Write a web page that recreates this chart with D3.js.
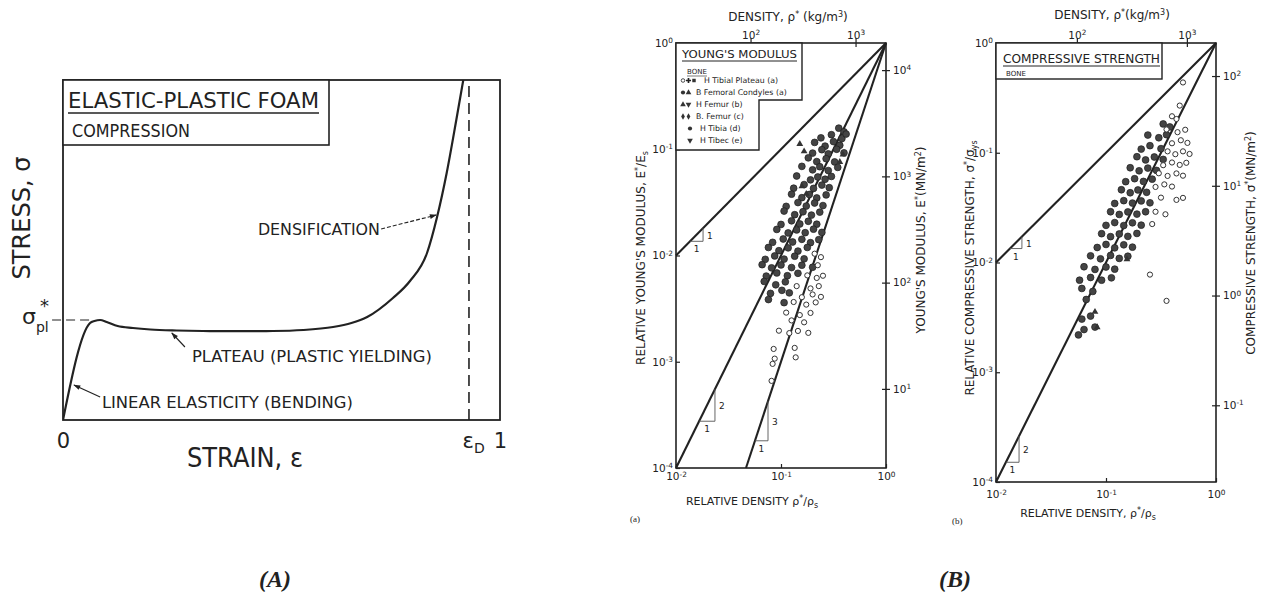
<!DOCTYPE html>
<html>
<head>
<meta charset="utf-8">
<script src="https://cdn.jsdelivr.net/npm/d3@7"></script>
<style>
body { margin: 0; background: #fff; }
text { font-family: 'DejaVu Sans', 'Liberation Sans', sans-serif; fill: #222; }
</style>
</head>
<body>
<script>
// ---------- panel (A): stress-strain curve of an elastic-plastic foam ----------
var strain = [0, 0.062, 0.072, 0.085, 0.1, 0.125, 0.16, 0.2, 0.26, 0.32, 0.4, 0.48, 0.55, 0.618, 0.66, 0.696, 0.755, 0.794, 0.833, 0.856, 0.878, 0.9, 0.916];
var stress = [0, 0.97, 0.99, 1.0, 0.98, 0.94, 0.92, 0.905, 0.895, 0.89, 0.888, 0.89, 0.9, 0.93, 0.97, 1.03, 1.22, 1.39, 1.67, 2.03, 2.47, 3.0, 3.4];
var epsD = 0.929;
var strainTicks = [0, epsD, 1];
// annotations: [text, text strain, text stress, arrow from (strain, stress), arrow to (strain, stress), text width]
var notes = [
  ["DENSIFICATION", 0.446, 1.85, [0.728, 1.91], [0.854, 2.05], 122],
  ["PLATEAU (PLASTIC YIELDING)", 0.295, 0.58, [0.279, 0.73], [0.249, 0.87], 240],
  ["LINEAR ELASTICITY (BENDING)", 0.089, 0.12, [0.085, 0.23], [0.025, 0.35], 251]
];

// ---------- panel (B)(a): Young's modulus of bone ----------
var youngFilled = [
  [0.355,0.158],[0.398,0.146],
  [0.240,0.128],[0.302,0.137],[0.380,0.126],[0.417,0.139],
  [0.209,0.116],[0.263,0.107],[0.316,0.118],[0.363,0.109],
  [0.200,0.0920],[0.245,0.0990],[0.282,0.0905],[0.339,0.1000],[0.398,0.0925],
  [0.182,0.0830],[0.219,0.0765],[0.269,0.0815],[0.324,0.0760],
  [0.158,0.0690],[0.200,0.0640],[0.234,0.0685],[0.282,0.0630],[0.347,0.0675],
  [0.141,0.0560],[0.191,0.0515],[0.224,0.0548],[0.263,0.0522],[0.302,0.0555],
  [0.132,0.0430],[0.166,0.0465],[0.204,0.0428],[0.245,0.0460],[0.288,0.0435],
  [0.126,0.0378],[0.158,0.0350],[0.186,0.0375],[0.219,0.0348],[0.269,0.0372],
  [0.112,0.0290],[0.145,0.0315],[0.174,0.0292],[0.209,0.0312],[0.251,0.0295],
  [0.107,0.0262],[0.135,0.0242],[0.162,0.0258],[0.195,0.0240],[0.234,0.0256],
  [0.100,0.0196],[0.126,0.0212],[0.151,0.0198],[0.182,0.0210],[0.219,0.0197],
  [0.0912,0.0176],[0.117,0.0163],[0.141,0.0174],[0.170,0.0164],[0.204,0.0177],[0.245,0.0165],
  [0.0832,0.0133],[0.105,0.0143],[0.129,0.0134],[0.158,0.0142],[0.191,0.0132],[0.229,0.0141],
  [0.0759,0.0119],[0.0955,0.0111],[0.117,0.0118],[0.145,0.0110],[0.178,0.0119],
  [0.0708,0.00920],[0.0871,0.00990],[0.107,0.00925],[0.135,0.00985],[0.166,0.00930],
  [0.0661,0.00820],[0.0813,0.00765],[0.100,0.00815],[0.126,0.00770],[0.158,0.00810],[0.200,0.00775],
  [0.0724,0.00640],[0.0912,0.00685],[0.115,0.00645],[0.145,0.00680],
  [0.0692,0.00570],[0.0891,0.00530],[0.110,0.00565],
  [0.0794,0.00440],[0.102,0.00470],[0.120,0.00445],
  [0.0759,0.00385],[0.107,0.00360]
];
var youngOpen = [
  [0.209,0.0104],[0.240,0.00965],[0.224,0.00810],
  [0.178,0.00650],[0.219,0.00615],[0.251,0.00645],
  [0.141,0.00515],[0.191,0.00490],[0.229,0.00515],
  [0.158,0.00405],[0.200,0.00430],[0.240,0.00408],
  [0.132,0.00365],[0.174,0.00345],[0.214,0.00362],
  [0.112,0.00290],[0.151,0.00275],[0.191,0.00288],
  [0.126,0.00245],[0.166,0.00235],
  [0.0955,0.00196],[0.120,0.00186],[0.145,0.00195],[0.182,0.00187],
  [0.0851,0.00132],[0.135,0.00135],[0.0871,0.00107],[0.138,0.00110],
  [0.0832,0.000955],[0.0813,0.000661]
];
var youngTri = [[0.151,0.112],[0.166,0.0955],[0.158,0.0447],[0.174,0.0380],[0.389,0.0891],[0.363,0.0759]];
// guide lines E*/Es = (rho*/rhos)^n, given by their end points
var youngLines = [[[0.01,0.01],[1,1]], [[0.01,0.0001],[1,1]], [[0.0464,0.0001],[1,1]]];
// slope triangles: [rho start, rho end, exponent, labels]
var youngSlopes = [[0.0136,0.0181,1,"1","1"], [0.0166,0.0235,2,"1","2"], [0.0565,0.0752,3,"1","3"]];
var legendNames = ["H Tibial Plateau (a)", "B Femoral Condyles (a)", "H Femur (b)", "B. Femur (c)", "H Tibia (d)", "H Tibec (e)"];
var legendSyms = [["o","+","sq","x"], ["c","tri"], ["tri","tridn"], ["dia","dia"], ["c"], ["tridn"]];

// ---------- panel (B)(b): compressive strength of bone ----------
var strengthFilled = [
  [0.331,0.183],[0.380,0.172],
  [0.240,0.145],[0.302,0.137],[0.355,0.146],
  [0.209,0.108],[0.251,0.116],[0.316,0.109],
  [0.191,0.0920],[0.229,0.0860],[0.275,0.0915],[0.331,0.0870],
  [0.166,0.0730],[0.200,0.0685],[0.240,0.0725],[0.288,0.0690],
  [0.151,0.0545],[0.182,0.0580],[0.219,0.0548],[0.263,0.0575],
  [0.138,0.0460],[0.166,0.0432],[0.195,0.0458],[0.234,0.0436],
  [0.120,0.0345],[0.145,0.0366],[0.174,0.0348],[0.209,0.0364],[0.251,0.0350],
  [0.110,0.0290],[0.132,0.0274],[0.158,0.0289],[0.191,0.0276],[0.229,0.0290],
  [0.100,0.0218],[0.120,0.0231],[0.145,0.0217],[0.174,0.0230],[0.209,0.0219],
  [0.0912,0.0183],[0.110,0.0172],[0.132,0.0182],[0.158,0.0173],[0.191,0.0184],
  [0.0832,0.0137],[0.100,0.0146],[0.120,0.0136],[0.145,0.0145],[0.174,0.0138],
  [0.0724,0.0115],[0.0891,0.0108],[0.110,0.0116],[0.132,0.0109],[0.158,0.0114],
  [0.0631,0.00915],[0.0794,0.00865],[0.100,0.00910],[0.120,0.00870],
  [0.0575,0.00690],[0.0724,0.00730],[0.0912,0.00690],[0.112,0.00725],
  [0.0603,0.00580],[0.0759,0.00545],[0.0661,0.00460],
  [0.0603,0.00305],[0.0724,0.00325],[0.0631,0.00245],[0.0794,0.00258],[0.0562,0.00219]
];
var strengthOpen = [
  [0.501,0.437],[0.468,0.269],[0.398,0.215],[0.437,0.203],
  [0.355,0.163],[0.447,0.154],[0.525,0.162],
  [0.398,0.122],[0.479,0.130],[0.550,0.123],
  [0.363,0.103],[0.427,0.0970],[0.501,0.103],[0.575,0.0975],
  [0.331,0.0770],[0.398,0.0815],[0.468,0.0775],[0.537,0.0810],
  [0.302,0.0650],[0.363,0.0615],[0.437,0.0648],[0.501,0.0618],
  [0.282,0.0488],[0.339,0.0515],[0.398,0.0492],
  [0.316,0.0390],[0.437,0.0372],[0.501,0.0388],
  [0.282,0.0290],[0.347,0.0275],[0.263,0.0224],
  [0.251,0.00776],[0.355,0.00447]
];
var strengthCross = [
  [0.178,0.0105],[0.126,0.00832],[0.158,0.00810],[0.138,0.00661],[0.166,0.00680],
  [0.100,0.00525],[0.151,0.00510],[0.112,0.00417],[0.132,0.00430],[0.158,0.00405],
  [0.0912,0.00316],[0.120,0.00325],[0.105,0.00263],[0.126,0.00255],
  [0.110,0.00209],[0.132,0.00215],[0.0525,0.00209],[0.0955,0.00166],[0.117,0.00170],[0.117,0.00126]
];
var strengthTri = [[0.0794,0.00355],[0.0832,0.00257],[0.155,0.0107]];
var strengthLines = [[[0.01,0.01],[1,1]], [[0.01,0.0001],[1,1]]];
var strengthSlopes = [[0.0134,0.0172,1,"1","1"], [0.0123,0.0162,2,"1","2"]];

// axis tick values
var relTicks = [1, 0.1, 0.01, 0.001, 0.0001];
var relDensTicks = [0.01, 0.1, 1];
var densTicks = [100, 1000];
var modulusTicks = [10, 100, 1000, 10000];
var strengthTicks = [0.1, 1, 10, 100];

var ink = "#222";
var svg = d3.select("body").append("svg").attr("width", 1262).attr("height", 600);

// ====================== panel A ======================
var xA = d3.scaleLinear().domain([0, 1]).range([63, 500]);
var yA = d3.scaleLinear().domain([0, 3.4]).range([420, 80]);
var gA = svg.append("g");

svg.append("defs").append("clipPath").attr("id", "clipA")
  .append("rect").attr("x", 63).attr("y", 80).attr("width", 437).attr("height", 340);
svg.select("defs").append("marker").attr("id", "arr")
  .attr("viewBox", "0 0 10 10").attr("refX", 9).attr("refY", 5)
  .attr("markerWidth", 9).attr("markerHeight", 7).attr("orient", "auto").attr("markerUnits", "userSpaceOnUse")
  .append("path").attr("d", "M0,1.5 L10,5 L0,8.5 Z").attr("fill", ink);

// dashed guides
gA.append("line").attr("x1", xA(-0.025)).attr("x2", xA(0.066)).attr("y1", yA(1)).attr("y2", yA(1))
  .attr("stroke", ink).attr("stroke-width", 1.2).attr("stroke-dasharray", "9,5");
gA.append("line").attr("x1", xA(epsD)).attr("x2", xA(epsD)).attr("y1", yA(0)).attr("y2", yA(3.4))
  .attr("stroke", ink).attr("stroke-width", 1.6).attr("stroke-dasharray", "11,6");

gA.append("path").datum(d3.zip(strain, stress))
  .attr("clip-path", "url(#clipA)")
  .attr("d", d3.line().x(d => xA(d[0])).y(d => yA(d[1])).curve(d3.curveMonotoneX))
  .attr("fill", "none").attr("stroke", ink).attr("stroke-width", 2.2);

gA.append("rect").attr("x", 63).attr("y", 80).attr("width", 437).attr("height", 340)
  .attr("fill", "none").attr("stroke", ink).attr("stroke-width", 1.8);

// title box
gA.append("rect").attr("x", 63).attr("y", 80).attr("width", 266).attr("height", 65)
  .attr("fill", "#fff").attr("stroke", ink).attr("stroke-width", 1.6);
gA.append("text").attr("x", 68).attr("y", 108).attr("font-size", 21)
  .attr("textLength", 251).attr("lengthAdjust", "spacingAndGlyphs").text("ELASTIC-PLASTIC FOAM");
gA.append("line").attr("x1", 68).attr("x2", 319).attr("y1", 113).attr("y2", 113).attr("stroke", ink).attr("stroke-width", 1.3);
gA.append("text").attr("x", 72).attr("y", 137).attr("font-size", 17)
  .attr("textLength", 118).attr("lengthAdjust", "spacingAndGlyphs").text("COMPRESSION");

// annotations
notes.forEach(function(n) {
  gA.append("text").attr("x", xA(n[1])).attr("y", yA(n[2])).attr("font-size", 16)
    .attr("textLength", n[5]).attr("lengthAdjust", "spacingAndGlyphs").text(n[0]);
  gA.append("line").attr("x1", xA(n[3][0])).attr("y1", yA(n[3][1]))
    .attr("x2", xA(n[4][0])).attr("y2", yA(n[4][1]))
    .attr("stroke", ink).attr("stroke-width", 1.1)
    .attr("stroke-dasharray", n[0] == "DENSIFICATION" ? "4,2" : null)
    .attr("marker-end", "url(#arr)");
});

// strain axis
var axA = gA.append("g").attr("transform", "translate(0,420)")
  .call(d3.axisBottom(xA).tickValues(strainTicks).tickSize(0).tickPadding(13).tickFormat(d => d == epsD ? "ε" : d3.format("d")(d)));
axA.select(".domain").remove();
axA.selectAll("text").attr("font-size", 21).attr("fill", ink).style("font-family", "'DejaVu Sans', sans-serif");
axA.selectAll(".tick text").filter(d => d == epsD).append("tspan").attr("font-size", 14).attr("dy", "0.35em").text("D");
axA.selectAll(".tick text").filter(d => d == epsD).attr("dx", "0.2em");

gA.append("text").attr("x", 245).attr("y", 467).attr("text-anchor", "middle").attr("font-size", 26)
  .attr("textLength", 116).attr("lengthAdjust", "spacingAndGlyphs").text("STRAIN, ε");
gA.append("text").attr("transform", "translate(30,218) rotate(-90)").attr("text-anchor", "middle")
  .attr("font-size", 25).attr("textLength", 123).attr("lengthAdjust", "spacingAndGlyphs").text("STRESS, σ");
var sp = gA.append("text").attr("x", 22).attr("y", yA(1) + 4).attr("font-size", 22).text("σ");
sp.append("tspan").attr("font-size", 14).attr("dy", 8).text("pl");
gA.append("text").attr("x", 40).attr("y", yA(1) - 8).attr("font-size", 18).text("*");

// ====================== panel B helpers ======================
function pow10(sel) {
  sel.selectAll(".tick text").each(function(d) {
    var t = d3.select(this), e = Math.round(Math.log10(d));
    t.text(null);
    t.append("tspan").text("10");
    t.append("tspan").attr("dy", "-0.5em").attr("font-size", "0.7em").text(e < 0 ? "-" + (-e) : e);
  });
}
function styleAxis(g) {
  g.select(".domain").remove();
  g.selectAll(".tick line").attr("stroke", ink).attr("stroke-width", 1.2);
  g.selectAll(".tick text").attr("fill", ink).attr("font-size", 10.5).style("font-family", "'DejaVu Sans', sans-serif");
}
var symGen = {
  o: d3.symbol(d3.symbolCircle, 10), c: d3.symbol(d3.symbolCircle, 14), "+": d3.symbol(d3.symbolCross, 14),
  sq: d3.symbol(d3.symbolSquare, 12), x: d3.symbol(d3.symbolTimes, 12), tri: d3.symbol(d3.symbolTriangle, 14),
  tridn: d3.symbol(d3.symbolTriangle, 14), dia: d3.symbol(d3.symbolDiamond, 12)
};
function drawSym(g, type, x, y) {
  var p = g.append("path").attr("d", symGen[type]()).attr("transform", "translate(" + x + "," + y + ")" + (type == "tridn" ? " rotate(180)" : ""));
  if (type == "o") p.attr("fill", "none").attr("stroke", ink).attr("stroke-width", 0.8);
  else if (type == "x" || type == "+") p.attr("fill", ink);
  else p.attr("fill", "#333");
}

function panelB(opt) {
  var g = svg.append("g");
  var x = d3.scaleLog().domain([0.01, 1]).range([opt.x0, opt.x1]);
  var y = d3.scaleLog().domain([1e-4, 1]).range([opt.y1, opt.y0]);
  var xt = d3.scaleLog().domain([opt.rhos / 100, opt.rhos]).range([opt.x0, opt.x1]);
  var yr = d3.scaleLog().domain([opt.prop / 1e4, opt.prop]).range([opt.y1, opt.y0]);

  // guide lines
  opt.lines.forEach(function(l) {
    g.append("path").datum(l).attr("d", d3.line().x(d => x(d[0])).y(d => y(d[1])))
      .attr("stroke", ink).attr("stroke-width", 2.1).attr("fill", "none");
  });
  // slope triangles
  opt.slopes.forEach(function(s) {
    var a = s[0], b = s[1], n = s[2];
    var pts = [[a, Math.pow(a, n)], [b, Math.pow(a, n)], [b, Math.pow(b, n)]];
    g.append("path").datum(pts).attr("d", d3.line().x(d => x(d[0])).y(d => y(d[1])))
      .attr("stroke", "#555").attr("stroke-width", 0.9).attr("fill", "none");
    g.append("text").attr("x", (x(a) + x(b)) / 2).attr("y", y(Math.pow(a, n)) + 11)
      .attr("text-anchor", "middle").attr("font-size", 9).text(s[3]);
    g.append("text").attr("x", x(b) + 4).attr("y", (y(Math.pow(a, n)) + y(Math.pow(b, n))) / 2 + 4)
      .attr("font-size", 9).text(s[4]);
  });

  // data points
  g.selectAll(".pf").data(opt.filled).enter().append("circle")
    .attr("cx", d => x(d[0])).attr("cy", d => y(d[1])).attr("r", 3.4)
    .attr("fill", "#444").attr("stroke", "#1c1c1c").attr("stroke-width", 0.7);
  g.selectAll(".po").data(opt.open).enter().append("circle")
    .attr("cx", d => x(d[0])).attr("cy", d => y(d[1])).attr("r", 2.6)
    .attr("fill", "#fff").attr("stroke", "#333").attr("stroke-width", 1);
  g.selectAll(".pt").data(opt.tri).enter().append("path")
    .attr("d", d3.symbol(d3.symbolTriangle, 20)())
    .attr("transform", d => "translate(" + x(d[0]) + "," + y(d[1]) + ")").attr("fill", "#333");
  g.selectAll(".px").data(opt.cross).enter().append("path")
    .attr("d", d3.symbol(d3.symbolTimes, 18)())
    .attr("transform", d => "translate(" + x(d[0]) + "," + y(d[1]) + ")").attr("fill", "#333");

  // frame
  g.append("rect").attr("x", opt.x0).attr("y", opt.y0).attr("width", opt.x1 - opt.x0).attr("height", opt.y1 - opt.y0)
    .attr("fill", "none").attr("stroke", ink).attr("stroke-width", 1.6);

  // axes
  var aL = g.append("g").attr("transform", "translate(" + opt.x0 + ",0)")
    .call(d3.axisLeft(y).tickValues(relTicks).tickSize(-4).tickPadding(3));
  styleAxis(aL); pow10(aL);
  var aB = g.append("g").attr("transform", "translate(0," + opt.y1 + ")")
    .call(d3.axisBottom(x).tickValues(relDensTicks).tickSize(-4).tickPadding(opt.bpad));
  styleAxis(aB); pow10(aB);
  var aT = g.append("g").attr("transform", "translate(0," + opt.y0 + ")")
    .call(d3.axisTop(xt).tickValues(densTicks).tickSize(5).tickPadding(-1));
  styleAxis(aT); pow10(aT);
  aT.selectAll(".tick line").attr("y2", 4).attr("y1", -5);
  var aR = g.append("g").attr("transform", "translate(" + opt.x1 + ",0)")
    .call(d3.axisRight(yr).tickValues(opt.rticks).tickSize(4).tickPadding(3));
  styleAxis(aR); pow10(aR);
  aR.selectAll(".tick line").attr("x1", -4);

  // axis titles
  var tt = g.append("text").attr("x", opt.topX).attr("y", opt.topY).attr("text-anchor", "middle").attr("font-size", 12).text("DENSITY, ρ");
  tt.append("tspan").attr("dy", -4).attr("font-size", 8).text("*");
  tt.append("tspan").attr("dy", 4).text(opt.topGap + "(kg/m");
  tt.append("tspan").attr("dy", -4).attr("font-size", 8).text("3");
  tt.append("tspan").attr("dy", 4).text(")");

  var bt = g.append("text").attr("x", opt.botX).attr("y", opt.botY).attr("text-anchor", "middle").attr("font-size", 11).text(opt.botText + "ρ");
  bt.append("tspan").attr("dy", -4).attr("font-size", 8).text("*");
  bt.append("tspan").attr("dy", 4).text("/ρ");
  bt.append("tspan").attr("dy", 3).attr("font-size", 8).text("s");

  var lt = g.append("text").attr("transform", "translate(" + opt.lX + "," + opt.lY + ") rotate(-90)")
    .attr("text-anchor", "middle").attr("font-size", 12).text(opt.lText);
  lt.append("tspan").attr("dy", -4).attr("font-size", 8).text("*");
  lt.append("tspan").attr("dy", 4).text("/" + opt.lSym);
  lt.append("tspan").attr("dy", 3).attr("font-size", 8).text(opt.lSub);

  var rt = g.append("text").attr("transform", "translate(" + opt.rX + "," + opt.rY + ") rotate(-90)")
    .attr("text-anchor", "middle").attr("font-size", 12).text(opt.rText);
  rt.append("tspan").attr("dy", -4).attr("font-size", 8).text("*");
  rt.append("tspan").attr("dy", 4).text("(MN/m");
  rt.append("tspan").attr("dy", -4).attr("font-size", 8).text("2");
  rt.append("tspan").attr("dy", 4).text(")");

  g.append("text").attr("x", opt.tagX).attr("y", opt.tagY).attr("font-size", 9)
    .style("font-family", "'Liberation Serif', serif").text(opt.tag);
  return {g: g, x: x, y: y};
}

// ---- (a) Young's modulus
var pa = panelB({
  x0: 676, x1: 886, y0: 43, y1: 468, rhos: 1950, prop: 18000, rticks: modulusTicks,
  lines: youngLines, slopes: youngSlopes, filled: youngFilled, open: youngOpen, tri: youngTri, cross: [],
  bpad: 5, topX: 788, topY: 21, topGap: " ", botX: 752, botY: 505, botText: "RELATIVE DENSITY  ",
  lX: 645, lY: 258, lText: "RELATIVE YOUNG'S MODULUS, E", lSym: "E", lSub: "s",
  rX: 925, rY: 240, rText: "YOUNG'S MODULUS, E",
  tagX: 630, tagY: 522, tag: "(a)"
});
// legend box
pa.g.append("path").attr("d", "M676,43 H802 V100 H759 V150 H676 Z").attr("fill", "#fff").attr("stroke", ink).attr("stroke-width", 1.4);
pa.g.append("text").attr("x", 682).attr("y", 58).attr("font-size", 11)
  .attr("textLength", 115).attr("lengthAdjust", "spacingAndGlyphs").text("YOUNG'S MODULUS");
pa.g.append("line").attr("x1", 682).attr("x2", 797).attr("y1", 61).attr("y2", 61).attr("stroke", ink);
pa.g.append("text").attr("x", 687).attr("y", 74).attr("font-size", 7).text("BONE");
pa.g.append("line").attr("x1", 687).attr("x2", 707).attr("y1", 76).attr("y2", 76).attr("stroke", ink).attr("stroke-width", 0.6);
legendNames.forEach(function(name, i) {
  var yy = 83 + i * 12, syms = legendSyms[i];
  var sx = syms.length == 1 ? 690 : 683;
  syms.forEach(function(s, j) { drawSym(pa.g, s, sx + j * 5.5, yy - 2.5); });
  var tx = syms.length == 4 ? 704 : (syms.length == 1 ? 700 : 696);
  pa.g.append("text").attr("x", tx).attr("y", yy).attr("font-size", 7.8).text(name);
});

// ---- (b) compressive strength
var pb = panelB({
  x0: 996, x1: 1216, y0: 43, y1: 482, rhos: 1840, prop: 200, rticks: strengthTicks,
  lines: strengthLines, slopes: strengthSlopes, filled: strengthFilled, open: strengthOpen, tri: strengthTri, cross: strengthCross,
  bpad: 9, topX: 1112, topY: 19, topGap: "", botX: 1088, botY: 517, botText: "RELATIVE DENSITY, ",
  lX: 974, lY: 268, lText: "RELATIVE COMPRESSIVE STRENGTH, σ", lSym: "σ", lSub: "ys",
  rX: 1255, rY: 243, rText: "COMPRESSIVE STRENGTH, σ",
  tagX: 952, tagY: 524, tag: "(b)"
});
pb.g.append("rect").attr("x", 996).attr("y", 43).attr("width", 166).attr("height", 36)
  .attr("fill", "#fff").attr("stroke", ink).attr("stroke-width", 1.4);
pb.g.append("text").attr("x", 1003).attr("y", 63).attr("font-size", 12)
  .attr("textLength", 157).attr("lengthAdjust", "spacingAndGlyphs").text("COMPRESSIVE STRENGTH");
pb.g.append("line").attr("x1", 1003).attr("x2", 1160).attr("y1", 66).attr("y2", 66).attr("stroke", ink);
pb.g.append("text").attr("x", 1006).attr("y", 76).attr("font-size", 7).text("BONE");

// ---- panel captions
svg.append("text").attr("x", 275).attr("y", 587).attr("text-anchor", "middle").attr("font-size", 24)
  .attr("font-weight", "bold").attr("font-style", "italic").style("font-family", "'Liberation Serif', serif").text("(A)");
svg.append("text").attr("x", 955).attr("y", 587).attr("text-anchor", "middle").attr("font-size", 24)
  .attr("font-weight", "bold").attr("font-style", "italic").style("font-family", "'Liberation Serif', serif").text("(B)");
</script>
</body>
</html>
